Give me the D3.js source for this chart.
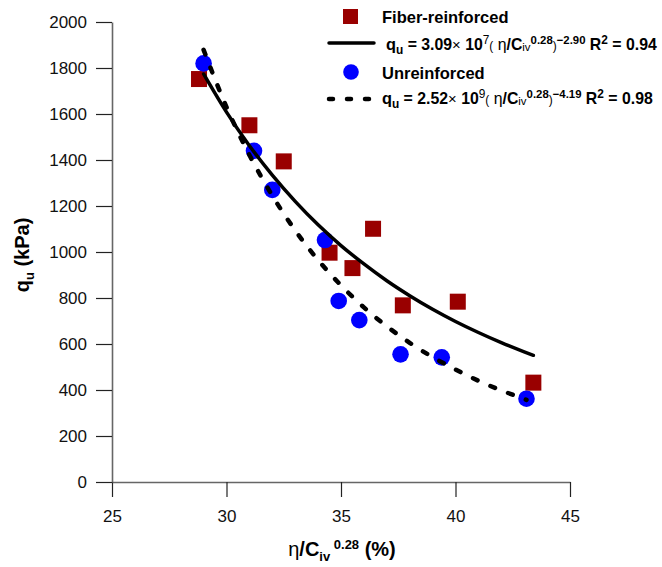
<!DOCTYPE html>
<html>
<head>
<meta charset="utf-8">
<script src="https://cdn.jsdelivr.net/npm/d3@7"></script>
<style>
  body { margin: 0; background: #fff; }
  svg { font-family: Arial, "Liberation Sans", sans-serif; }
  .tick text { font-size: 17px; fill: #111; }
</style>
</head>
<body>
<svg id="chart" width="662" height="567"></svg>
<script>
// measured points
const fiberX = [28.8, 31.0, 32.5, 34.5, 35.5, 36.4, 37.7, 40.1, 43.4];
const fiberY = [1752, 1551, 1394, 997, 930, 1101, 768, 784, 432];
const unrX = [29.0, 31.2, 32.0, 34.3, 34.9, 35.8, 37.6, 39.4, 43.1];
const unrY = [1820, 1440, 1270, 1052, 787, 704, 555, 542, 362];

// fitted curves
const fitFiberX = [29, 30, 31, 32, 33, 34, 35, 36, 37, 38, 39, 40, 41, 42, 43, 43.4];
const fitFiberY = [1774, 1608, 1462, 1334, 1220, 1118, 1028, 948, 875, 810, 751, 698, 650, 606, 566, 551];
const fitUnrX = [29, 30, 31, 32, 33, 34, 35, 36, 37, 38, 39, 40, 41, 42, 43, 43.1];
const fitUnrY = [1879, 1630, 1422, 1245, 1094, 965, 855, 759, 677, 605, 543, 489, 440, 398, 361, 357];

const xTicks = [25, 30, 35, 40, 45];
const yTicks = [0, 200, 400, 600, 800, 1000, 1200, 1400, 1600, 1800, 2000];

const svg = d3.select("#chart");
const x = d3.scaleLinear().domain([25, 45]).range([112, 570]);
const y = d3.scaleLinear().domain([0, 2000]).range([482, 22]);

const xAxis = svg.append("g")
    .attr("transform", "translate(0,482)")
    .call(d3.axisBottom(x).tickValues(xTicks).tickSize(15).tickSizeOuter(0).tickPadding(13));
const yAxis = svg.append("g")
    .attr("transform", "translate(112,0)")
    .call(d3.axisLeft(y).tickValues(yTicks).tickFormat(d3.format("d"))
      .tickSize(16).tickSizeOuter(0).tickPadding(9));
[xAxis, yAxis].forEach(function(a) {
  a.select(".domain").attr("stroke", "#666").attr("stroke-width", 1.6);
  a.selectAll(".tick line").attr("stroke", "#222").attr("stroke-width", 1.2);
  a.selectAll(".tick text").attr("font-family", "Arial, 'Liberation Sans', sans-serif");
});

// markers
const sq = 16;
svg.append("g").selectAll("rect")
  .data(d3.zip(fiberX, fiberY))
  .enter().append("rect")
    .attr("x", function(d) { return x(d[0]) - sq / 2; })
    .attr("y", function(d) { return y(d[1]) - sq / 2; })
    .attr("width", sq)
    .attr("height", sq)
    .attr("fill", "#990000");
svg.append("g").selectAll("circle")
  .data(d3.zip(unrX, unrY))
  .enter().append("circle")
    .attr("cx", function(d) { return x(d[0]); })
    .attr("cy", function(d) { return y(d[1]); })
    .attr("r", 8.3)
    .attr("fill", "#0000ff");

// fit lines
const line = d3.line()
  .x(function(d) { return x(d[0]); })
  .y(function(d) { return y(d[1]); })
  .curve(d3.curveMonotoneX);
svg.append("path")
    .datum(d3.zip(fitFiberX, fitFiberY))
    .attr("d", line)
    .attr("fill", "none")
    .attr("stroke", "#000")
    .attr("stroke-width", 3.5)
    .attr("stroke-linecap", "round");
svg.append("path")
    .datum(d3.zip(fitUnrX, fitUnrY))
    .attr("d", line)
    .attr("fill", "none")
    .attr("stroke", "#000")
    .attr("stroke-width", 4.5)
    .attr("stroke-linecap", "round")
    .attr("stroke-dasharray", "5,14");

// rich text helper: parts = [text, size, weight, shift]
function rich(g, px, py, parts) {
  const t = g.append("text").attr("x", px).attr("y", py).attr("fill", "#000");
  let cur = 0;
  parts.forEach(function(p) {
    const shift = p[3] || 0;
    t.append("tspan")
      .attr("dy", shift - cur)
      .attr("font-size", p[1])
      .attr("font-weight", p[2])
      .text(p[0]);
    cur = shift;
  });
  return t;
}

function equation(a, e, pw, r2) {
  return [
    ["q", 16.5, "bold"], ["u", 12, "bold", 4], [" = " + a, 16, "bold"], ["\u00d7", 15, "normal"],
    [" 10", 16, "bold"], [e, 12, "normal", -6], ["(", 12, "normal"], [" \u03b7", 16, "normal"],
    ["/C", 16, "bold"], ["iv", 11.5, "normal", 1], ["0.28", 11.5, "bold", -6], [")", 12, "normal"],
    [pw, 11.5, "bold", -6], ["  R", 16, "bold"], ["2", 12, "bold", -6], [" = " + r2, 16, "bold"]
  ];
}

// squeeze a text so it spans [x0, x1]
function fitWidth(t, x0, x1) {
  const w = t.node().getBBox().width;
  const k = (x1 - x0) / w;
  t.attr("transform", "translate(" + x0 + ",0) scale(" + k + ",1) translate(" + (-x0) + ",0)");
}

// legend
const leg = svg.append("g");
leg.append("rect").attr("x", 343).attr("y", 9).attr("width", 15).attr("height", 15).attr("fill", "#990000");
leg.append("text").attr("x", 382).attr("y", 23).attr("font-size", 16.5).attr("font-weight", "bold").text("Fiber-reinforced");
leg.append("line").attr("x1", 329).attr("x2", 374).attr("y1", 43).attr("y2", 43)
  .attr("stroke", "#000").attr("stroke-width", 3.5).attr("stroke-linecap", "round");
fitWidth(rich(leg, 386, 50, equation("3.09", "7", "\u22122.90", "0.94")), 386, 657);
leg.append("circle").attr("cx", 351).attr("cy", 72).attr("r", 7.8).attr("fill", "#0000ff");
leg.append("text").attr("x", 382).attr("y", 79).attr("font-size", 16.5).attr("font-weight", "bold").text("Unreinforced");
leg.append("line").attr("x1", 329).attr("x2", 375).attr("y1", 99).attr("y2", 99)
  .attr("stroke", "#000").attr("stroke-width", 4.5).attr("stroke-linecap", "round")
  .attr("stroke-dasharray", "4,14");
fitWidth(rich(leg, 382, 104, equation("2.52", "9", "\u22124.19", "0.98")), 382, 653);

// axis titles
const yt = svg.append("g").attr("transform", "translate(29,255) rotate(-90)");
rich(yt, 0, 0, [["q", 20, "bold"], ["u", 13, "bold", 5], [" (kPa)", 20, "bold"]]).attr("text-anchor", "middle");
rich(svg, 342, 556, [
  ["\u03b7", 20, "normal"], ["/C", 20, "bold"], ["iv", 13, "bold", 5], ["  0.28", 13, "bold", -7], [" (%)", 20, "bold"]
]).attr("text-anchor", "middle");
</script>
</body>
</html>
